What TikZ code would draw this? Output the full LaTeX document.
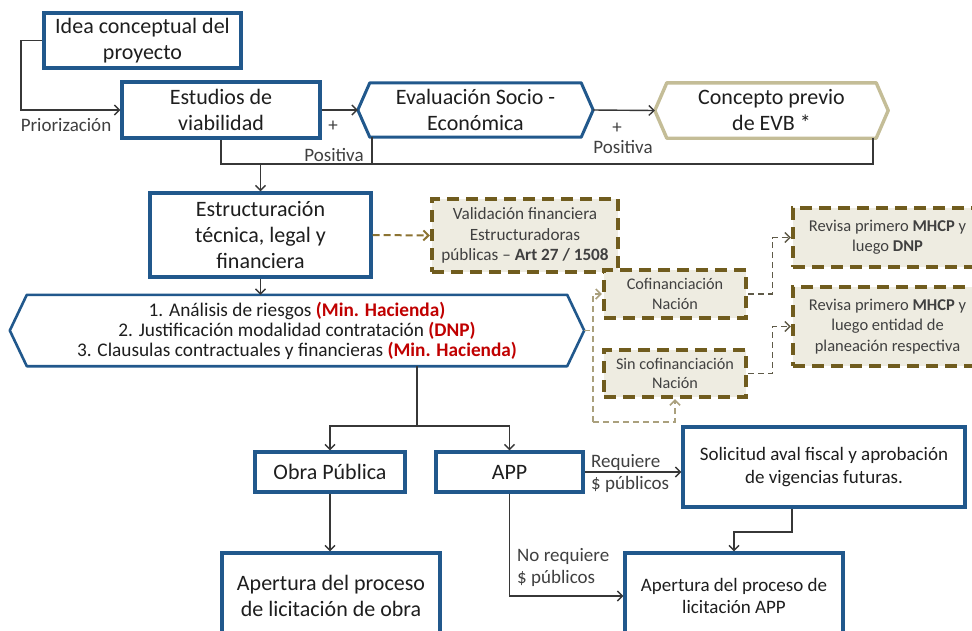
\documentclass[tikz,border=0pt]{standalone}
\usepackage{fontspec}
\setmainfont{Carlito}
\usetikzlibrary{arrows.meta}
\definecolor{bblue}{RGB}{33,88,140}
\definecolor{khaki}{RGB}{196,189,151}
\definecolor{olive}{RGB}{112,92,30}
\definecolor{tanfill}{RGB}{238,236,225}
\definecolor{txt}{RGB}{30,30,30}
\definecolor{txtg}{RGB}{64,64,64}
\definecolor{dred}{RGB}{192,0,0}
\definecolor{conncol}{RGB}{55,55,55}
\definecolor{dashbrown}{RGB}{140,115,50}
\definecolor{lightkh}{RGB}{170,160,125}
\definecolor{graydash}{RGB}{95,90,72}
\tikzset{
  bluebox/.style={draw=bblue, line width=3.4pt, fill=white, align=center, inner sep=0pt, text=txt, font=\fontsize{22}{26}\selectfont},
  hexnode/.style={draw=none, align=center, inner sep=0pt, text=txt},
  dbox/.style={draw=olive, line width=4.4pt, dash pattern=on 12pt off 7pt, fill=tanfill, align=center, inner sep=0pt, text=txtg},
  conn/.style={draw=conncol, line width=1.4pt, -{Straight Barb[length=5pt,width=10pt]}},
  plain/.style={draw=conncol, line width=1.4pt},
  lbl/.style={inner sep=0pt, text=txtg, font=\fontsize{19}{22}\selectfont},
  brdash/.style={draw=dashbrown, line width=2pt, dash pattern=on 7pt off 4pt, -{Straight Barb[length=5pt,width=10pt]}},
  lkdash/.style={draw=lightkh, line width=1.5pt, dash pattern=on 6pt off 4pt},
  gydash/.style={draw=graydash, line width=1.3pt, dash pattern=on 6pt off 4pt},
  tip/.style={-{Straight Barb[length=5pt,width=10pt]}}
}
\begin{document}
\begin{tikzpicture}[x=1pt,y=-1pt]
\useasboundingbox (0,0) rectangle (972,630);
\fill[white] (0,0) rectangle (972,630);

% main boxes
\node[bluebox, minimum width=197, minimum height=55] (idea) at (142.5,40.5) {Idea conceptual del\\proyecto};
\node[bluebox, minimum width=198, minimum height=56] (estudios) at (221,110) {Estudios de\\viabilidad};
\node[hexnode, minimum width=235, minimum height=54, font=\fontsize{22}{26}\selectfont] (eval) at (475.5,110) {Evaluación Socio -\\Económica};
\draw[bblue, line width=3pt, line join=round] ([xshift=12pt]eval.north west) -- ([xshift=-12pt]eval.north east) -- (eval.east) -- ([xshift=-12pt]eval.south east) -- ([xshift=12pt]eval.south west) -- (eval.west) -- cycle;
\node[hexnode, minimum width=233, minimum height=55, font=\fontsize{22}{26}\selectfont] (concepto) at (771.5,110.5) {Concepto previo\\de EVB *};
\draw[khaki, line width=3.4pt, line join=round] ([xshift=12pt]concepto.north west) -- ([xshift=-12pt]concepto.north east) -- (concepto.east) -- ([xshift=-12pt]concepto.south east) -- ([xshift=12pt]concepto.south west) -- (concepto.west) -- cycle;

\node[bluebox, minimum width=221, minimum height=84] (estruct) at (260.5,235) {Estructuración\\técnica, legal y\\financiera};
\node[dbox, minimum width=186, minimum height=73, font=\fontsize{17.2}{20.5}\selectfont] (valid) at (525,235.5) {Validación financiera\\Estructuradoras\\públicas – \textbf{Art 27 / 1508}};

\node[hexnode, minimum width=574, minimum height=71, font=\fontsize{19.3}{20}\selectfont] (bighex) at (297,330.5) {1. Análisis de riesgos \textcolor{dred}{\textbf{(Min. Hacienda)}}\\2. Justificación modalidad contratación \textcolor{dred}{\textbf{(DNP)}}\\3. Clausulas contractuales y financieras \textcolor{dred}{\textbf{(Min. Hacienda)}}};
\draw[bblue, line width=2.6pt, line join=round] ([xshift=17pt]bighex.north west) -- ([xshift=-17pt]bighex.north east) -- (bighex.east) -- ([xshift=-17pt]bighex.south east) -- ([xshift=17pt]bighex.south west) -- (bighex.west) -- cycle;

\node[dbox, minimum width=142, minimum height=48, font=\fontsize{16.2}{19.5}\selectfont] (cofin) at (675,294) {Cofinanciación\\Nación};
\node[dbox, minimum width=142, minimum height=47, font=\fontsize{16.2}{19.5}\selectfont] (sincof) at (675,373.5) {Sin cofinanciación\\Nación};
\node[dbox, minimum width=189, minimum height=59, font=\fontsize{16.5}{20}\selectfont] (rev1) at (887.5,237.5) {Revisa primero \textbf{MHCP} y\\luego \textbf{DNP}};
\node[dbox, minimum width=189, minimum height=79, font=\fontsize{16.5}{20.5}\selectfont] (rev2) at (887.5,326.5) {Revisa primero \textbf{MHCP} y\\luego entidad de\\planeación respectiva};

\node[bluebox, minimum width=150, minimum height=40] (obra) at (330,472) {Obra Pública};
\node[bluebox, minimum width=147, minimum height=40] (app) at (509.5,472) {APP};
\node[bluebox, minimum width=282, minimum height=80, font=\fontsize{19}{22.5}\selectfont] (solic) at (824,467) {Solicitud aval fiscal y aprobación\\de vigencias futuras.};
\node[bluebox, minimum width=218, minimum height=86] (aobra) at (331,596) {Apertura del proceso\\de licitación de obra};
\node[bluebox, minimum width=218, minimum height=86, font=\fontsize{19}{22.5}\selectfont] (aapp) at (734,596) {Apertura del proceso de\\licitación APP};

% connectors top
\coordinate (pl) at (21,110);
\draw[conn] (idea.west) -| (pl) -- (estudios.west);
\draw[conn] (estudios.east) -- (eval.west);
\draw[conn] (eval.east) -- (concepto.west);
\coordinate (b2) at (873,164);
\coordinate (b3) at (372,164);
\coordinate (b4) at (260.5,164);
\draw[plain] (estudios.south) |- (b2) -- (concepto.south -| b2);
\draw[plain] (b3) -- (b3 |- eval.south);
\draw[conn] (b4) -- (estruct.north);
\draw[brdash] (estruct.east) -- (valid.west);
\draw[conn] (estruct.south) -- (estruct.south |- bighex.north);

% fork
\coordinate (f) at (417,426);
\draw[plain] (bighex.south -| f) -- (f);
\draw[conn] (f) -| (obra.north);
\draw[conn] (f) -| (app.north);
\draw[conn] (obra.south) -- (obra.south |- aobra.north);
\draw[conn] (app.east) -- (app.east -| solic.west);
\draw[conn] (app.south) |- (aapp.west);
\coordinate (s1) at (792,532);
\draw[conn] (solic.south -| s1) -- (s1) -| (aapp.north);

% dashed right side
\coordinate (d1) at (593,294);
\coordinate (d2) at (593,422);
\draw[lkdash] (bighex.east) -- (bighex.east -| d1);
\draw[lkdash, tip] (d2) -- (d1) -- (cofin.west);
\draw[lkdash, tip] (d2) -| (sincof.south);
\draw[gydash, tip] (cofin.east) -- ++(24,0) |- (rev1.west);
\draw[gydash, tip] (sincof.east) -- ++(24,0) |- (rev2.west);

% labels
\node[lbl] (lprio) at (66,125) {Priorización};
\node[lbl] (lplus1) at (333,126) {+};
\node[lbl] (lpos1) at (334,155) {Positiva};
\node[lbl] (lplus2) at (617,128) {+};
\node[lbl] (lpos2) at (623,147) {Positiva};
\node[lbl, align=left, anchor=west] (lreq) at (591,473) {Requiere\\\$ públicos};
\node[lbl, align=left, anchor=west] (lnoreq) at (517,567) {No requiere\\\$ públicos};
\end{tikzpicture}
\end{document}
